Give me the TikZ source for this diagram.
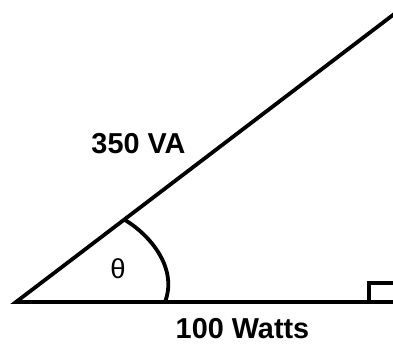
\documentclass[tikz,border=0pt]{standalone}
\usepackage{fontspec}
\setmainfont{Liberation Sans}
\usetikzlibrary{positioning}
\begin{document}
\begin{tikzpicture}[
        % styles
        x=0.025cm, y=-0.025cm,
        side/.style={line width=2.7pt, line join=miter},
        lbl/.style={font=\fontsize{20.5}{24}\selectfont\bfseries, anchor=base, inner sep=0pt},
        angle_lbl/.style={font=\fontsize{19.5}{22}\selectfont, inner sep=0pt}
    ]
    \useasboundingbox (0,0) rectangle (393,345);
    \clip (0,0) rectangle (393,345);

    % 1. vertices
    \coordinate (A) at (16,302);
    \coordinate (C) at (400,302);
    \coordinate (B) at (400,9.6);

    % 2. triangle
    \draw[side] (B) -- (A) -- (C);

    % right angle mark
    \coordinate (r1) at (369,302);
    \coordinate (r2) at (369,283);
    \coordinate (r3) at (400,283);
    \draw[side] (r1) -- (r2) -- (r3);

    % angle arc
    \coordinate (arc_start) at (125,220);
    \coordinate (arc_end) at (165,302);
    \draw[side] (arc_start) .. controls (150,235) and (178,268) .. (arc_end);

    % 3. labels
    \node (theta) [angle_lbl] at (118,269) {θ};
    \node (hyp) [lbl] at (138.5,153) {350 VA};
    \node (base) [lbl] at (242.5,338) {100 Watts};
\end{tikzpicture}
\end{document}
